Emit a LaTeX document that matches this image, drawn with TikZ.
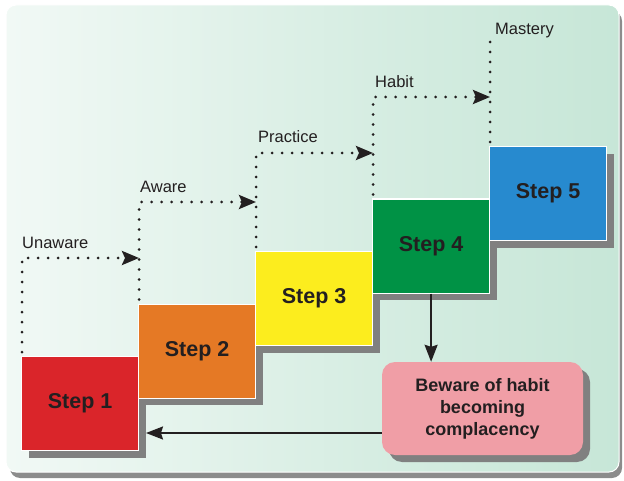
\documentclass[tikz,border=0pt]{standalone}
\usepackage{fontspec}
\setmainfont{Liberation Sans}
\usetikzlibrary{arrows.meta,shadows}
\definecolor{mint}{RGB}{180,222,202}
\definecolor{ink}{RGB}{35,31,32}
\definecolor{cred}{RGB}{218,37,42}
\definecolor{corange}{RGB}{229,121,37}
\definecolor{cyellow}{RGB}{252,237,30}
\definecolor{cgreen}{RGB}{0,146,69}
\definecolor{cblue}{RGB}{39,138,207}
\definecolor{cpink}{RGB}{240,158,166}
\pgfdeclarehorizontalshading{bgshade}{100bp}{color(0bp)=(white); color(10bp)=(white); color(55bp)=(mint!55!white); color(100bp)=(mint)}
\tikzset{
  stepbox/.style={draw=white, line width=1.2pt, minimum width=117pt, minimum height=94pt,
    anchor=north west, inner sep=0pt, text=ink, font=\bfseries\fontsize{21.5}{25}\selectfont,
    general shadow={fill=black!50, shadow xshift=7pt, shadow yshift=-7pt}},
  pinkbox/.style={fill=cpink, rounded corners=13pt, minimum width=201pt, minimum height=93pt,
    inner sep=0pt, align=center, text=ink, font=\bfseries\fontsize{18}{22}\selectfont,
    general shadow={fill=black!50, shadow xshift=7pt, shadow yshift=-7pt}},
  lbl/.style={anchor=base west, inner sep=0pt, text=ink, font=\fontsize{16.5}{19}\selectfont},
  dotline/.style={draw=ink, line width=3pt, line cap=round, dash pattern=on 0pt off 10pt},
  dotarrow/.style={dotline, -{Stealth[length=17pt, width=14pt, inset=3pt]}},
  solidarrow/.style={draw=ink, line width=1.8pt, -{Stealth[length=17pt, width=13pt, inset=2pt]}}
}
\begin{document}
\begin{tikzpicture}[x=1pt,y=-1pt]
\useasboundingbox (0,0) rectangle (624,481);
% panel
\fill[black!45, rounded corners=10pt] (10,11) rectangle (622,478);
\shadedraw[shading=bgshade, draw=white, line width=1pt, rounded corners=10pt] (6,5) rectangle (619,472);
% steps
\node[stepbox, fill=cred]    (s1) at (21,356)   {Step 1};
\node[stepbox, fill=corange] (s2) at (138,303.5) {Step 2};
\node[stepbox, fill=cyellow] (s3) at (255,251)  {Step 3};
\node[stepbox, fill=cgreen]  (s4) at (372,198.5) {Step 4};
\node[stepbox, fill=cblue]   (s5) at (489,146)  {Step 5};
% corners of dotted paths
\coordinate (c1) at (22,258);
\coordinate (c2) at (139,202);
\coordinate (c3) at (256,153);
\coordinate (c4) at (373,97);
\coordinate (c5) at (490,40);
\draw[dotarrow] ([yshift=4pt]c1 |- s1.north) -- (c1) -- (c2 |- c1);
\draw[dotarrow] ([yshift=4pt]c2 |- s2.north) -- (c2) -- (c3 |- c2);
\draw[dotarrow] ([yshift=4pt]c3 |- s3.north) -- (c3) -- (c4 |- c3);
\draw[dotarrow] ([yshift=4pt]c4 |- s4.north) -- (c4) -- (c5 |- c4);
\draw[dotline]  ([yshift=4pt]c5 |- s5.north) -- (c5);
% labels
\node[lbl] (l1) at (22,248) {Unaware};
\node[lbl] (l2) at (140,193) {Aware};
\node[lbl] (l3) at (258,143) {Practice};
\node[lbl] (l4) at (375,88) {Habit};
\node[lbl] (l5) at (495,35) {Mastery};
% warning box
\node[pinkbox] (pk) at (482.5,408.5) {Beware of habit\\becoming\\complacency};
\coordinate (lt) at (146,433);
\draw[solidarrow] (s4.south) -- (s4.south |- pk.north);
\draw[solidarrow] (pk.west |- lt) -- (lt);
\end{tikzpicture}
\end{document}
